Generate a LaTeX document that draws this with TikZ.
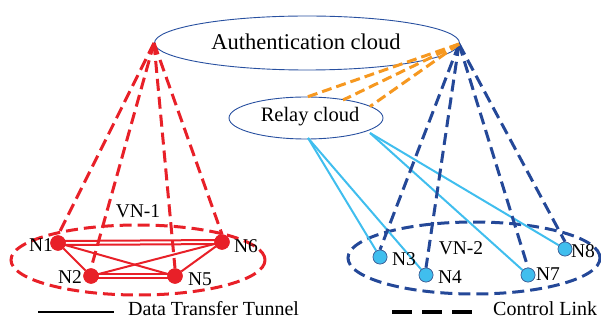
\documentclass[tikz,border=0pt]{standalone}
\usepackage{fontspec}
\setmainfont{Liberation Serif}
\usetikzlibrary{shapes.geometric}
\definecolor{redc}{RGB}{232,32,40}
\definecolor{bluec}{RGB}{36,72,152}
\definecolor{cyanc}{RGB}{64,190,238}
\definecolor{orangec}{RGB}{246,152,32}
\definecolor{outl}{RGB}{40,80,160}
\tikzset{
  cloud/.style={ellipse, draw=outl, line width=0.9pt, inner sep=0pt},
  rednode/.style={circle, fill=redc, draw=redc, minimum size=15pt, inner sep=0pt},
  bluenode/.style={circle, fill=cyanc, draw=outl!70!gray, line width=0.6pt, minimum size=14pt, inner sep=0pt},
  lbl/.style={font=\fontsize{19.5}{22}\selectfont, inner sep=0pt},
  legtext/.style={font=\fontsize{20}{22}\selectfont, inner sep=0pt, anchor=base west},
  redctl/.style={draw=redc, line width=3pt, dash pattern=on 12pt off 6pt},
  bluectl/.style={draw=bluec, line width=3pt, dash pattern=on 12pt off 6pt},
  orangectl/.style={draw=orangec, line width=3pt, dash pattern=on 10pt off 5pt},
  tunnel/.style={draw=redc, line width=2pt},
  relaylink/.style={draw=cyanc, line width=2pt},
}
\begin{document}
\begin{tikzpicture}[x=1pt,y=-1pt]
\useasboundingbox (0,0) rectangle (601,320);
% clouds
\node[cloud, minimum width=305pt, minimum height=54pt] (auth) at (307,43) {};
\node[font=\fontsize{22.5}{24}\selectfont, inner sep=0pt] (authtext) at (306,42) {Authentication cloud};
\node[cloud, minimum width=154pt, minimum height=42pt] (relay) at (306,118) {};
\node[font=\fontsize{20.5}{22}\selectfont, inner sep=0pt] (relaytext) at (310,117) {Relay cloud};
\coordinate (ra) at (154,43);
\coordinate (ba) at (459,44);
\coordinate (o1) at (307,97);
\coordinate (o2) at (343,100);
\coordinate (o3) at (370,106.5);
\coordinate (r1) at (308,138);
\coordinate (r2) at (370,133);
% VN ellipses
\node[ellipse, minimum width=254pt, minimum height=70pt, inner sep=0pt, redctl] (vn1) at (138,260) {};
\node[ellipse, minimum width=252pt, minimum height=72pt, inner sep=0pt, bluectl] (vn2) at (474,258) {};
% nodes
\node[rednode] (N1) at (58,243) {};
\node[rednode] (N2) at (91,276) {};
\node[rednode] (N5) at (175,276) {};
\node[rednode] (N6) at (222,242) {};
\node[bluenode] (N3) at (380,257) {};
\node[bluenode] (N4) at (426,275) {};
\node[bluenode] (N7) at (528,275) {};
\node[bluenode] (N8) at (565,249) {};
% tunnels
\draw[tunnel] ([yshift=-2pt]N1.center) -- ([yshift=-2pt]N6.center);
\draw[tunnel] ([yshift=2pt]N1.center) -- ([yshift=2pt]N6.center);
\draw[tunnel] ([yshift=-2pt]N2.center) -- ([yshift=-2pt]N5.center);
\draw[tunnel] ([yshift=2pt]N2.center) -- ([yshift=2pt]N5.center);
\draw[tunnel] (N1) -- (N2);
\draw[tunnel] (N1) -- (N5);
\draw[tunnel] (N2) -- (N6);
\draw[tunnel] (N5) -- (N6);
% relay links
\draw[relaylink] (r1) -- (N3);
\draw[relaylink] (r1) -- (N4);
\draw[relaylink] (r2) -- (N7);
\draw[relaylink] (r2) -- (N8);
% control links
\draw[redctl] (ra) -- (N1.north);
\draw[redctl] (ra) -- (N2.north);
\draw[redctl] (ra) -- (N5.north);
\draw[redctl] (ra) -- (N6.north);
\draw[bluectl] (ba) -- (N3.north);
\draw[bluectl] (ba) -- (N4.north);
\draw[bluectl] (ba) -- (N7.north);
\draw[bluectl] (ba) -- (N8.north);
\draw[orangectl] (ba) -- (o1);
\draw[orangectl] (ba) -- (o2);
\draw[orangectl] (ba) -- (o3);
% redraw nodes on top
\foreach \p in {(58,243),(91,276),(175,276),(222,242)} {\fill[redc] \p circle (7.5pt);}
\foreach \p in {(380,257),(426,275),(528,275),(565,249)} {\filldraw[fill=cyanc, draw=outl!70!gray, line width=0.6pt] \p circle (7pt);}
% labels
\node[lbl] (lN1) at (41,245) {N1};
\node[lbl] (lN2) at (70,277) {N2};
\node[lbl] (lN5) at (200,279) {N5};
\node[lbl] (lN6) at (246,246) {N6};
\node[lbl] (lN3) at (404,259) {N3};
\node[lbl] (lN4) at (450,277) {N4};
\node[lbl] (lN7) at (548,274) {N7};
\node[lbl] (lN8) at (583,251) {N8};
\node[lbl] (lvn1) at (138,211) {VN-1};
\node[lbl] (lvn2) at (461,248) {VN-2};
% legend
\coordinate (l1a) at (38,312);
\coordinate (l1b) at (114,312);
\draw[black, line width=2pt] (l1a) -- (l1b);
\node[legtext] (t1) at (128,315) {Data Transfer Tunnel};
\coordinate (l2a) at (392,312);
\coordinate (l2b) at (472,312);
\draw[black, line width=4pt, dash pattern=on 20pt off 10pt] (l2a) -- (l2b);
\node[legtext] (t2) at (493,315) {Control Link};
\end{tikzpicture}
\end{document}
